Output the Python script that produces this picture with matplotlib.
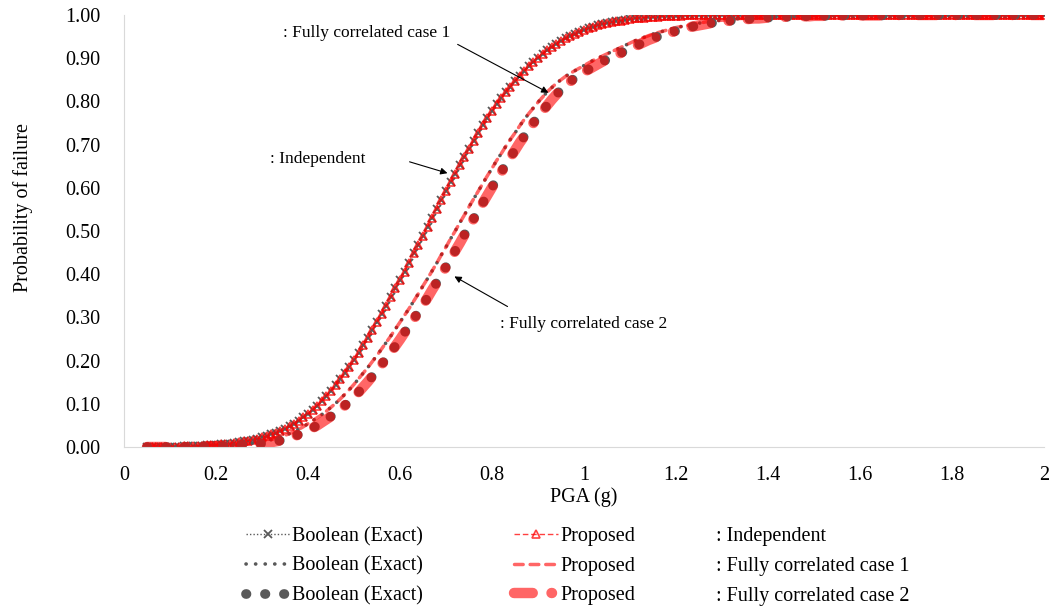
import numpy as np
import matplotlib.pyplot as plt

plt.rcParams["font.family"] = ["Liberation Serif", "DejaVu Serif"]

# PGA grid (g), 0.05 .. 2.00 in 0.01 steps
pga = np.round(np.arange(0.05, 2.0001, 0.01), 2)

# independent components (Boolean and proposed overlap)
p_indep = [
    0.000, 0.000, 0.000, 0.001, 0.001, 0.001, 0.001, 0.001, 0.002, 0.002,
    0.002, 0.003, 0.003, 0.004, 0.005, 0.005, 0.006, 0.007, 0.008, 0.010,
    0.011, 0.013, 0.015, 0.017, 0.019, 0.022, 0.025, 0.029, 0.033, 0.037,
    0.042, 0.048, 0.054, 0.061, 0.069, 0.077, 0.086, 0.096, 0.107, 0.118,
    0.130, 0.143, 0.157, 0.171, 0.186, 0.201, 0.218, 0.235, 0.252, 0.270,
    0.290, 0.308, 0.327, 0.347, 0.367, 0.386, 0.406, 0.427, 0.448, 0.468,
    0.488, 0.510, 0.531, 0.552, 0.572, 0.593, 0.613, 0.633, 0.652, 0.671,
    0.690, 0.709, 0.727, 0.745, 0.761, 0.777, 0.793, 0.808, 0.821, 0.834,
    0.847, 0.859, 0.870, 0.881, 0.892, 0.901, 0.910, 0.918, 0.926, 0.933,
    0.940, 0.946, 0.951, 0.956, 0.961, 0.965, 0.969, 0.973, 0.976, 0.979,
    0.981, 0.983, 0.985, 0.987, 0.989, 0.990, 0.992, 0.993, 0.994, 0.995,
    0.995, 0.996, 0.997, 0.997, 0.998, 0.998, 0.998, 0.999, 0.999, 0.999,
    0.999, 0.999, 1.000, 1.000, 1.000, 1.000, 1.000, 1.000, 1.000, 1.000,
    1.000, 1.000, 1.000, 1.000, 1.000, 1.000, 1.000, 1.000, 1.000, 1.000,
    1.000, 1.000, 1.000, 1.000, 1.000, 1.000, 1.000, 1.000, 1.000, 1.000,
    1.000, 1.000, 1.000, 1.000, 1.000, 1.000, 1.000, 1.000, 1.000, 1.000,
    1.000, 1.000, 1.000, 1.000, 1.000, 1.000, 1.000, 1.000, 1.000, 1.000,
    1.000, 1.000, 1.000, 1.000, 1.000, 1.000, 1.000, 1.000, 1.000, 1.000,
    1.000, 1.000, 1.000, 1.000, 1.000, 1.000, 1.000, 1.000, 1.000, 1.000,
    1.000, 1.000, 1.000, 1.000, 1.000, 1.000,
]

# fully correlated case 1 (thin track, a little left of case 2)
p_case1 = [
    0.000, 0.000, 0.000, 0.000, 0.000, 0.000, 0.000, 0.000, 0.001,
    0.001, 0.001, 0.001, 0.002, 0.002, 0.002, 0.003, 0.003, 0.004, 0.005,
    0.005, 0.006, 0.007, 0.008, 0.009, 0.011, 0.012, 0.014, 0.017, 0.020,
    0.023, 0.027, 0.031, 0.036, 0.041, 0.047, 0.054, 0.061, 0.068, 0.075,
    0.083, 0.092, 0.101, 0.111, 0.122, 0.133, 0.145, 0.158, 0.171, 0.184,
    0.198, 0.212, 0.227, 0.242, 0.257, 0.273, 0.289, 0.305, 0.321, 0.338,
    0.355, 0.373, 0.390, 0.408, 0.426, 0.445, 0.463, 0.482, 0.500, 0.519,
    0.537, 0.556, 0.574, 0.592, 0.610, 0.628, 0.645, 0.663, 0.679, 0.696,
    0.712, 0.727, 0.743, 0.758, 0.772, 0.785, 0.798, 0.810, 0.822, 0.832,
    0.842, 0.850, 0.858, 0.865, 0.871, 0.877, 0.883, 0.889, 0.895, 0.900,
    0.905, 0.910, 0.915, 0.920, 0.925, 0.930, 0.935, 0.940, 0.944, 0.948,
    0.952, 0.956, 0.959, 0.962, 0.965, 0.968, 0.971, 0.973, 0.975, 0.977,
    0.979, 0.981, 0.983, 0.985, 0.986, 0.987, 0.988, 0.989, 0.990, 0.991,
    0.992, 0.992, 0.993, 0.994, 0.994, 0.995, 0.995, 0.995, 0.996, 0.996,
    0.996, 0.997, 0.997, 0.997, 0.998, 0.998, 0.998, 0.998, 0.998, 0.998,
    0.999, 0.999, 0.999, 0.999, 0.999, 0.999, 0.999, 0.999, 0.999, 0.999,
    1.000, 1.000, 1.000, 1.000, 1.000, 1.000, 1.000, 1.000, 1.000, 1.000,
    1.000, 1.000, 1.000, 1.000, 1.000, 1.000, 1.000, 1.000, 1.000, 1.000,
    1.000, 1.000, 1.000, 1.000, 1.000, 1.000, 1.000, 1.000, 1.000, 1.000,
    1.000, 1.000, 1.000, 1.000, 1.000, 1.000, 1.000,
]

# fully correlated case 2 (thick track)
p_case2 = [
    0.000, 0.000, 0.000, 0.000, 0.000, 0.000, 0.000, 0.000, 0.000, 0.000,
    0.001, 0.001, 0.001, 0.001, 0.001, 0.002, 0.002, 0.002, 0.003, 0.003,
    0.004, 0.005, 0.005, 0.006, 0.007, 0.008, 0.010, 0.011, 0.013, 0.015,
    0.018, 0.021, 0.025, 0.029, 0.033, 0.038, 0.044, 0.050, 0.057, 0.064,
    0.071, 0.079, 0.087, 0.096, 0.106, 0.116, 0.127, 0.139, 0.151, 0.164,
    0.177, 0.191, 0.205, 0.219, 0.234, 0.249, 0.265, 0.281, 0.296, 0.313,
    0.329, 0.346, 0.364, 0.381, 0.399, 0.417, 0.435, 0.454, 0.472, 0.491,
    0.509, 0.528, 0.546, 0.565, 0.583, 0.601, 0.619, 0.636, 0.654, 0.671,
    0.687, 0.704, 0.719, 0.735, 0.750, 0.765, 0.778, 0.791, 0.804, 0.816,
    0.827, 0.837, 0.846, 0.854, 0.861, 0.868, 0.874, 0.880, 0.886, 0.892,
    0.897, 0.902, 0.907, 0.912, 0.917, 0.922, 0.927, 0.932, 0.937, 0.942,
    0.946, 0.950, 0.954, 0.957, 0.960, 0.963, 0.966, 0.969, 0.972, 0.974,
    0.976, 0.978, 0.980, 0.982, 0.984, 0.985, 0.986, 0.987, 0.988, 0.989,
    0.990, 0.991, 0.992, 0.992, 0.993, 0.994, 0.994, 0.995, 0.995, 0.996,
    0.996, 0.996, 0.997, 0.997, 0.997, 0.998, 0.998, 0.998, 0.998, 0.998,
    0.998, 0.999, 0.999, 0.999, 0.999, 0.999, 0.999, 0.999, 0.999, 0.999,
    0.999, 1.000, 1.000, 1.000, 1.000, 1.000, 1.000, 1.000, 1.000, 1.000,
    1.000, 1.000, 1.000, 1.000, 1.000, 1.000, 1.000, 1.000, 1.000, 1.000,
    1.000, 1.000, 1.000, 1.000, 1.000, 1.000, 1.000, 1.000, 1.000, 1.000,
    1.000, 1.000, 1.000, 1.000, 1.000, 1.000,
]

case_labels = [": Independent", ": Fully correlated case 1", ": Fully correlated case 2"]

GRAY = "#595959"
RED = "#ff0000"

fig = plt.figure(figsize=(10.5, 6.08), dpi=100)
ax = fig.add_axes([124 / 1050, 1 - 447 / 608, 920 / 1050, 432 / 608])

b_ind, = ax.plot(pga, p_indep, color=GRAY, lw=1.0, ls=(0, (1, 1.5)),
                 marker="x", ms=5.5, mew=1.3, label="Boolean (Exact)")
p_ind, = ax.plot(pga, p_indep, color=RED, lw=1.0, ls=(0, (4, 2)), alpha=0.75,
                 marker="^", ms=5.5, mfc="none", mew=1.2, label="Proposed")
b_c1, = ax.plot(pga, p_case1, color=GRAY, lw=2.6, dashes=(0.05, 2.6),
                dash_capstyle="round", label="Boolean (Exact)")
p_c1, = ax.plot(pga, p_case1, color=RED, lw=2.5, alpha=0.6, dashes=(2.5, 2.0),
                dash_capstyle="round", label="Proposed")
b_c2, = ax.plot(pga, p_case2, color=GRAY, lw=7, dashes=(0.05, 1.9),
                dash_capstyle="round", label="Boolean (Exact)")
p_c2, = ax.plot(pga, p_case2, color=RED, lw=7.5, alpha=0.6,
                dashes=(1.8, 1.8, 0.05, 1.8), dash_capstyle="round", label="Proposed")

ax.set_xlim(0, 2)
ax.set_ylim(0, 1)
ax.set_xticks(np.arange(0, 2.01, 0.2))
ax.set_xticklabels(["0", "0.2", "0.4", "0.6", "0.8", "1", "1.2", "1.4", "1.6", "1.8", "2"])
ax.set_yticks(np.arange(0, 1.001, 0.1))
ax.set_yticklabels([f"{v:.2f}" for v in np.arange(0, 1.001, 0.1)])
ax.tick_params(length=0, labelsize=14.5, colors="black")
ax.tick_params(axis="y", pad=17)
ax.tick_params(axis="x", pad=14)
for s in ["top", "right"]:
    ax.spines[s].set_visible(False)
for s in ["left", "bottom"]:
    ax.spines[s].set_color("#d9d9d9")
ax.set_xlabel("PGA (g)", fontsize=14.5, labelpad=1)
ax.set_ylabel("Probability of failure", fontsize=14.5, labelpad=23, y=0.554)

# annotations
arrow = dict(arrowstyle="-|>", color="black", lw=0.8, mutation_scale=10)
ax.annotate("", xy=(0.928, 0.817), xytext=(0.720, 0.935), arrowprops=arrow)
ax.text(0.346, 0.958, case_labels[1], fontsize=12.5, va="center")
ax.annotate("", xy=(0.709, 0.632), xytext=(0.615, 0.662), arrowprops=arrow)
ax.text(0.317, 0.667, case_labels[0], fontsize=12.5, va="center")
ax.annotate("", xy=(0.713, 0.398), xytext=(0.839, 0.322), arrowprops=arrow)
ax.text(0.817, 0.285, case_labels[2], fontsize=12.5, va="center")

# legend: two columns of handles + a column of case names
fig.legend([b_ind, b_c1, b_c2, p_ind, p_c1, p_c2],
           ["Boolean (Exact)"] * 3 + ["Proposed"] * 3,
           ncol=2, loc="upper left", bbox_to_anchor=(246 / 1050, 1 - 527 / 608),
           frameon=False, fontsize=14.5, handlelength=2.2, handletextpad=0.1,
           columnspacing=4.5, labelspacing=0.52, borderpad=0, borderaxespad=0)
for i, lab in enumerate(case_labels):
    fig.text(716 / 1050, 1 - (537 + 30 * i) / 608, lab, fontsize=14.5, va="center")

fig.savefig("out.png", dpi=100)
